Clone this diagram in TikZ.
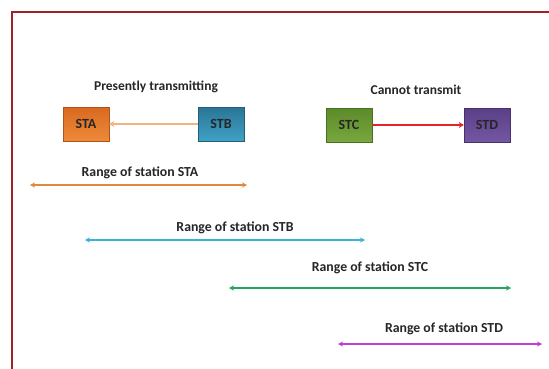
\documentclass[tikz,border=0pt]{standalone}
\usepackage{fontspec}
\setmainfont{Carlito}
\usetikzlibrary{arrows.meta}
\definecolor{frame}{HTML}{A32025}
\definecolor{orA}{HTML}{D9691F}
\definecolor{orAb}{HTML}{EE8A3A}
\definecolor{blB}{HTML}{2A7595}
\definecolor{blBb}{HTML}{3FA2C6}
\definecolor{grC}{HTML}{5C8A2A}
\definecolor{grCb}{HTML}{78A83E}
\definecolor{puD}{HTML}{5B3F87}
\definecolor{puDb}{HTML}{7457A3}
\definecolor{arrA}{HTML}{F2B47E}
\definecolor{rngA}{HTML}{E0893D}
\definecolor{rngB}{HTML}{3BB2DA}
\definecolor{rngC}{HTML}{26A35E}
\definecolor{rngD}{HTML}{C23FD2}
\definecolor{redarr}{HTML}{E0262B}
\definecolor{txt}{HTML}{262626}
\begin{document}
\begin{tikzpicture}[x=1pt,y=-1pt,
  station/.style={minimum width=46pt,minimum height=34pt,inner sep=0pt,font=\bfseries\fontsize{14}{16}\selectfont,text=txt},
  title/.style={font=\bfseries\fontsize{13.5}{16}\selectfont,text=txt},
  rangelabel/.style={font=\bfseries\fontsize{13.8}{16}\selectfont,text=txt},
  rangearrow/.style={line width=1.2pt,{Stealth[length=5pt,width=5pt]}-{Stealth[length=5pt,width=5pt]}}]
\useasboundingbox (0,0) rectangle (549,369);
\fill[white] (0,0) rectangle (549,369);
% frame
\draw[frame,line width=2.2pt] (12,372) -- (12,12) -- (552,12);
% titles
\node[title] (t1) at (156,87) {Presently transmitting};
\node[title] (t2) at (416,90) {Cannot transmit};
% stations
\node[station,top color=orA,bottom color=orAb,draw=orA!80!black,line width=0.4pt] (sta) at (86,124) {STA};
\node[station,top color=blB,bottom color=blBb,draw=blB!80!black,line width=0.4pt] (stb) at (221,124) {STB};
\node[station,top color=grC,bottom color=grCb,draw=grC!80!black,line width=0.4pt] (stc) at (349,125) {STC};
\node[station,top color=puD,bottom color=puDb,draw=puD!80!black,line width=0.4pt] (std) at (487,125) {STD};
% transmissions
\draw[arrA,line width=1.6pt,-{Stealth[length=5pt,width=6pt]}] (stb) -- (sta);
\draw[redarr,line width=1.6pt,-{Stealth[length=5pt,width=6pt]}] (stc) -- (std);
% ranges
\coordinate (a1) at (30,185); \coordinate (a2) at (247,185);
\coordinate (b1) at (85,240); \coordinate (b2) at (365,240);
\coordinate (c1) at (229,288); \coordinate (c2) at (511,288);
\coordinate (d1) at (338,344); \coordinate (d2) at (542,344);
\draw[rangearrow,rngA] (a1) -- (a2);
\draw[rangearrow,rngB] (b1) -- (b2);
\draw[rangearrow,rngC] (c1) -- (c2);
\draw[rangearrow,rngD] (d1) -- (d2);
\node[rangelabel] (la) at (140,173) {Range of station STA};
\node[rangelabel] (lb) at (235,228) {Range of station STB};
\node[rangelabel] (lc) at (370,268) {Range of station STC};
\node[rangelabel] (ld) at (444,329) {Range of station STD};
\end{tikzpicture}
\end{document}
